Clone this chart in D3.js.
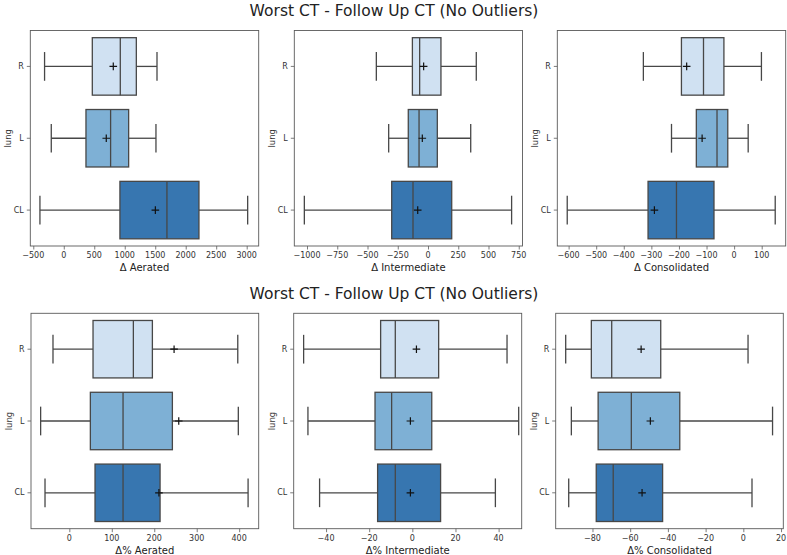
<!DOCTYPE html>
<html>
<head>
<meta charset="utf-8">
<script src="https://cdn.jsdelivr.net/npm/d3@7"></script>
<style>
  html, body { margin: 0; padding: 0; background: #fff; }
  svg { display: block; font-family: "DejaVu Sans", sans-serif; }
</style>
</head>
<body>
<svg id="chart" width="787" height="555"></svg>
<script>
// ---- data (stats per lung: [whiskerLow, q1, median, q3, whiskerHigh, mean]) ----
const lungs = ["R", "L", "CL"];
const colors = ["#d0e1f2", "#7eb0d5", "#3776b0"];
const titleText = "Worst CT - Follow Up CT (No Outliers)";

const dAerated = [
  [-315, 468, 927, 1190, 1529, 812],
  [-205, 364, 768, 1064, 1512, 697],
  [-391, 921, 1692, 2217, 3016, 1502]
];
const dIntermediate = [
  [-427, -129, -69, 107, 399, -36],
  [-325, -163, -74, 77, 353, -47],
  [-1022, -300, -124, 196, 691, -85]
];
const dConsolidated = [
  [-329, -191, -111, -37, 99, -172],
  [-227, -137, -62, -23, 51, -116],
  [-605, -312, -209, -73, 149, -289]
];
const pAerated = [
  [-38.5, 55.8, 150.8, 195.6, 396.7, 246.7],
  [-67.6, 49.5, 126.5, 242.7, 398, 257.7],
  [-57.3, 60.5, 126.5, 213.7, 421, 211]
];
const pIntermediate = [
  [-50.4, -14.7, -7.9, 12.2, 43.9, 1.9],
  [-48.4, -17.3, -9.6, 9.0, 49.3, -0.9],
  [-43, -16.1, -7.9, 13.1, 38.5, -0.9]
];
const pConsolidated = [
  [-94.2, -80.6, -69.8, -43.8, 2.5, -54.2],
  [-91.2, -77, -59.4, -33.7, 15.5, -49.3],
  [-92.6, -78, -69, -42.8, 4.6, -53.7]
];

// tick values
const ticksDAerated = [-500, 0, 500, 1000, 1500, 2000, 2500, 3000];
const ticksDIntermediate = [-1000, -750, -500, -250, 0, 250, 500, 750];
const ticksDConsolidated = [-600, -500, -400, -300, -200, -100, 0, 100];
const ticksPAerated = [0, 100, 200, 300, 400];
const ticksPIntermediate = [-40, -20, 0, 20, 40];
const ticksPConsolidated = [-80, -60, -40, -20, 0, 20];

// axis limits (as in the figure)
const limDAerated = [-549, 3197];
const limDIntermediate = [-1105, 781];
const limDConsolidated = [-641, 187];
const limPAerated = [-90.3, 446];
const limPIntermediate = [-55, 50.7];
const limPConsolidated = [-99.5, 21.2];

// ---- layout ----
const svg = d3.select("#chart");
const rows = [
  { titleY: 15.5, top: 30.5, bottom: 246, tickY: 258.3, labelY: 271,
    panels: [
      { x0: 30.3, x1: 258.7, data: dAerated, ticks: ticksDAerated, lim: limDAerated, label: "Δ Aerated" },
      { x0: 294.3, x1: 522.5, data: dIntermediate, ticks: ticksDIntermediate, lim: limDIntermediate, label: "Δ Intermediate" },
      { x0: 557.3, x1: 785.7, data: dConsolidated, ticks: ticksDConsolidated, lim: limDConsolidated, label: "Δ Consolidated" }
    ] },
  { titleY: 298.5, top: 313.3, bottom: 528.7, tickY: 540.8, labelY: 554,
    panels: [
      { x0: 31, x1: 258.7, data: pAerated, ticks: ticksPAerated, lim: limPAerated, label: "Δ% Aerated" },
      { x0: 293.7, x1: 521.7, data: pIntermediate, ticks: ticksPIntermediate, lim: limPIntermediate, label: "Δ% Intermediate" },
      { x0: 555.7, x1: 783.3, data: pConsolidated, ticks: ticksPConsolidated, lim: limPConsolidated, label: "Δ% Consolidated" }
    ] }
];

const fmt = v => (v < 0 ? "\u2212" + Math.abs(v) : String(v));
const lineCol = "#474747";
const frameCol = "#5a5a5a";
const textCol = "#333";

rows.forEach(row => {
  svg.append("text")
    .attr("x", 394).attr("y", row.titleY)
    .attr("text-anchor", "middle")
    .attr("font-size", 15.5).attr("fill", "#222")
    .text(titleText);

  row.panels.forEach(p => {
    const x = d3.scaleLinear().domain(p.lim).range([p.x0, p.x1]);
    const y = d3.scaleBand().domain(lungs).range([row.top, row.bottom]).padding(0);
    const bw = y.bandwidth() * 0.8;
    const g = svg.append("g");

    // x axis
    const xa = g.append("g")
      .attr("transform", `translate(0,${row.bottom})`)
      .call(d3.axisBottom(x).tickValues(p.ticks).tickSize(3.5).tickPadding(2).tickFormat(fmt));
    xa.select(".domain").remove();
    xa.selectAll(".tick line").attr("stroke", frameCol).attr("stroke-width", 0.8);
    xa.selectAll(".tick text").remove();
    p.ticks.forEach(t => {
      g.append("text").attr("x", x(t)).attr("y", row.tickY)
        .attr("text-anchor", "middle").attr("font-size", 8).attr("fill", textCol)
        .text(fmt(t));
    });

    // y axis
    const ya = g.append("g")
      .attr("transform", `translate(${p.x0},0)`)
      .call(d3.axisLeft(y).tickSize(3.5).tickPadding(3));
    ya.select(".domain").remove();
    ya.selectAll(".tick line").attr("stroke", frameCol).attr("stroke-width", 0.8);
    ya.selectAll(".tick text").attr("font-size", 8).attr("fill", textCol)
      .attr("font-family", "DejaVu Sans, sans-serif");

    // axis labels
    g.append("text")
      .attr("x", (p.x0 + p.x1) / 2).attr("y", row.labelY)
      .attr("text-anchor", "middle").attr("font-size", 10).attr("fill", "#222")
      .text(p.label);
    g.append("text")
      .attr("transform", `translate(${p.x0 - 19},${(row.top + row.bottom) / 2}) rotate(-90)`)
      .attr("text-anchor", "middle").attr("font-size", 8.5).attr("fill", textCol)
      .text("lung");

    // boxes
    lungs.forEach((lung, i) => {
      const [lo, q1, med, q3, hi, mean] = p.data[i];
      const cy = y(lung) + y.bandwidth() / 2;
      const bg = g.append("g");
      // whiskers
      bg.append("line").attr("x1", x(lo)).attr("x2", x(q1)).attr("y1", cy).attr("y2", cy)
        .attr("stroke", lineCol).attr("stroke-width", 1.3);
      bg.append("line").attr("x1", x(q3)).attr("x2", x(hi)).attr("y1", cy).attr("y2", cy)
        .attr("stroke", lineCol).attr("stroke-width", 1.3);
      // caps
      [lo, hi].forEach(v => {
        bg.append("line").attr("x1", x(v)).attr("x2", x(v))
          .attr("y1", cy - bw / 4).attr("y2", cy + bw / 4)
          .attr("stroke", lineCol).attr("stroke-width", 1.3);
      });
      // box
      bg.append("rect")
        .attr("x", x(q1)).attr("y", cy - bw / 2)
        .attr("width", x(q3) - x(q1)).attr("height", bw)
        .attr("fill", colors[i]).attr("stroke", lineCol).attr("stroke-width", 1.3);
      // median
      bg.append("line").attr("x1", x(med)).attr("x2", x(med))
        .attr("y1", cy - bw / 2).attr("y2", cy + bw / 2)
        .attr("stroke", lineCol).attr("stroke-width", 1.3);
      // mean marker (+)
      const mx = x(mean);
      bg.append("path")
        .attr("d", `M${mx - 3.8},${cy}H${mx + 3.8}M${mx},${cy - 3.8}V${cy + 3.8}`)
        .attr("stroke", "#111").attr("stroke-width", 1.2).attr("fill", "none");
    });

    // frame
    g.append("rect")
      .attr("x", p.x0).attr("y", row.top)
      .attr("width", p.x1 - p.x0).attr("height", row.bottom - row.top)
      .attr("fill", "none").attr("stroke", frameCol).attr("stroke-width", 0.9);
  });
});
</script>
</body>
</html>
